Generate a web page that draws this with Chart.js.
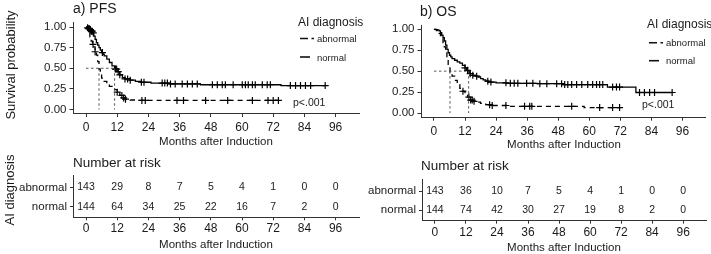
<!DOCTYPE html>
<html><head><meta charset="utf-8">
<script src="https://cdn.jsdelivr.net/npm/chart.js@4/dist/chart.umd.min.js"></script>
<style>
html,body{margin:0;padding:0;background:#fff;}
#wrap{position:relative;width:711px;height:254px;overflow:hidden;background:#fff;}
canvas{position:absolute;}
</style></head><body>
<div id="wrap">
<canvas id="c1" width="370" height="150" style="left:0;top:0"></canvas>
<canvas id="c2" width="351" height="150" style="left:360px;top:0"></canvas>
<canvas id="c3" width="360" height="104" style="left:0;top:150px"></canvas>
<canvas id="c4" width="351" height="104" style="left:360px;top:150px"></canvas>
</div>
<script>
// ---------- data ----------
const monthTicks = [0, 12, 24, 36, 48, 60, 72, 84, 96];
const survTicks = [0, 0.25, 0.5, 0.75, 1];
const groups = ['abnormal', 'normal'];

// a) PFS
const pfsNormalT = [0,0.5,1,1.5,2,2.5,3,3.5,4,4.5,5,5.5,6,6.5,7,8,9,10,11,12,13,14,15,17,19,21,25,32,44,75,92];
const pfsNormalS = [1,0.99,0.98,0.97,0.95,0.93,0.89,0.85,0.81,0.78,0.75,0.72,0.69,0.67,0.65,0.61,0.57,0.53,0.49,0.46,0.42,0.385,0.37,0.355,0.34,0.33,0.32,0.31,0.30,0.29,0.29];
const pfsAbnT = [0,0.5,1,1.5,2,2.5,3,3.5,4,4.5,5,5.5,6,7,8,9,10,11,12,13,14,15,17,20,74];
const pfsAbnS = [1,0.97,0.93,0.88,0.83,0.79,0.76,0.70,0.66,0.58,0.49,0.43,0.38,0.34,0.31,0.28,0.26,0.24,0.21,0.17,0.14,0.125,0.115,0.11,0.11];
const pfsNormalCens = [0.6,1.0,1.3,1.7,2.1,2.4,2.8,6.3,11.3,11.8,12.4,13.0,15,16,17,21.3,22.3,29.3,30.3,31.3,32.5,34.3,37,39,40.9,42.8,48.6,50.5,52.4,53.6,56.6,60.1,61.3,62.4,64,65.1,67.8,69.7,70.9,78.6,80.6,82.5,84.4,86.4,92];
const pfsAbnCens = [2.7,3.5,12,13.8,14.5,15.2,21.5,22.8,35,37.5,46,54.5,64,70,72,74];
const pfsMedians = [5, 11];
const pfsRiskAbn = [143, 29, 8, 7, 5, 4, 1, 0, 0];
const pfsRiskNormal = [144, 64, 34, 25, 22, 16, 7, 2, 0];

// b) OS
const osNormalT = [0,1,1.5,2,2.5,3,3.5,4,4.5,5,5.5,6,6.5,7,8,9,10,11,12,12.5,13.4,14,15,16,17,18,19,20,21,24,28,40,50,67,78,92];
const osNormalS = [1,0.995,0.99,0.98,0.96,0.93,0.90,0.86,0.81,0.76,0.72,0.69,0.67,0.65,0.63,0.61,0.595,0.57,0.54,0.51,0.49,0.47,0.45,0.44,0.43,0.41,0.395,0.38,0.37,0.36,0.355,0.35,0.34,0.31,0.245,0.245];
const osAbnT = [0,0.5,1,1.5,2,2.5,3,3.5,4,4.5,5,5.5,6.2,6.5,7,8,9,10,11,12,13,14,15,16,18,20,22,28,58,72];
const osAbnS = [1,0.995,0.985,0.97,0.95,0.925,0.89,0.84,0.79,0.74,0.66,0.58,0.49,0.47,0.44,0.39,0.34,0.295,0.26,0.23,0.19,0.155,0.14,0.13,0.115,0.10,0.09,0.08,0.065,0.065];
const osNormalCens = [12,13,14,15,16.5,20.8,22,27.8,29.5,31,32.4,35.8,38.2,40.9,43.6,47.4,49.3,50.5,51.7,53.2,55.1,57.1,59.4,61.3,62.8,64,65.2,69,70.5,71.7,79.4,81.3,83.3,85.2,92];
const osAbnCens = [11.2,13.5,14.2,14.8,15.5,21.5,22.5,27.8,35,37,37.8,53.2,64,69,71.7];
const osMedians = [6.2, 13.4];
const osRiskAbn = [143, 36, 10, 7, 5, 4, 1, 0, 0];
const osRiskNormal = [144, 74, 42, 30, 27, 19, 8, 2, 0];

// ---------- helpers ----------
const FF = "'Liberation Sans', Arial, sans-serif";
const INK = '#1a1a1a';
const AX = '#333';

function pts(T, S) { return T.map((t, i) => ({x: t, y: S[i]})); }
function valueAt(T, S, t) { let v = S[0]; for (let i = 0; i < T.length; i++) if (T[i] <= t) v = S[i]; return v; }
function censPts(T, S, C) { return C.map(t => ({x: t, y: valueAt(T, S, t)})); }

function deco(spec) {
  return {
    id: 'deco',
    afterDraw(chart) {
      const ctx = chart.ctx;
      ctx.save();
      (spec.lines || []).forEach(l => {
        ctx.beginPath();
        ctx.setLineDash(l.dash || []);
        ctx.lineWidth = l.w || 1.6;
        ctx.strokeStyle = '#111';
        ctx.moveTo(l.x1, l.y); ctx.lineTo(l.x2, l.y); ctx.stroke();
      });
      ctx.setLineDash([]);
      (spec.texts || []).forEach(t => {
        ctx.save();
        ctx.font = `${t.size}px ${FF}`;
        ctx.fillStyle = t.color || INK;
        ctx.textAlign = t.align || 'left';
        ctx.textBaseline = 'middle';
        ctx.translate(t.x, t.y);
        if (t.rot) ctx.rotate(t.rot);
        ctx.fillText(t.text, 0, 0);
        ctx.restore();
      });
      if (spec.risk) {
        const xs = chart.scales.x, ys = chart.scales.y;
        ctx.font = `10.5px ${FF}`;
        ctx.fillStyle = INK;
        ctx.textAlign = 'center';
        ctx.textBaseline = 'middle';
        spec.risk.forEach((row, ri) => row.forEach((n, i) => {
          ctx.fillText(String(n), xs.getPixelForValue(monthTicks[i]), ys.getPixelForValue(ri + 1));
        }));
      }
      ctx.restore();
    }
  };
}

function axisCommon(extra) {
  return Object.assign({
    grid: {drawOnChartArea: false, tickLength: 3.5, color: AX, tickColor: AX, lineWidth: 1},
    border: {display: true, color: AX, width: 1},
  }, extra);
}

function kmChart(id, d) {
  const medLine = (a) => ({data: a, borderColor: '#444', borderWidth: 0.9, borderDash: [2.5, 2.5], pointRadius: 0, fill: false});
  new Chart(document.getElementById(id), {
    type: 'line',
    data: {
      datasets: [
        medLine([{x: 0, y: 0.5}, {x: d.med[1], y: 0.5}]),
        medLine([{x: d.med[0], y: 0.5}, {x: d.med[0], y: 0}]),
        medLine([{x: d.med[1], y: 0.5}, {x: d.med[1], y: 0}]),
        {data: pts(d.nT, d.nS), stepped: true, borderColor: '#000', borderWidth: 1.3, pointRadius: 0, fill: false},
        {data: pts(d.aT, d.aS), stepped: true, borderColor: '#000', borderWidth: 1.3, borderDash: [5, 4], pointRadius: 0, fill: false},
        {data: censPts(d.nT, d.nS, d.nC), showLine: false, pointStyle: 'cross', pointRadius: 3.5, pointBorderWidth: 1.2, pointBorderColor: '#000'},
        {data: censPts(d.aT, d.aS, d.aC), showLine: false, pointStyle: 'cross', pointRadius: 3.5, pointBorderWidth: 1.2, pointBorderColor: '#000'}
      ]
    },
    options: {
      responsive: false, animation: false, devicePixelRatio: 1,
      layout: {padding: {top: d.top, right: d.right, left: 0, bottom: 0}},
      plugins: {legend: {display: false}, tooltip: {enabled: false}},
      scales: {
        x: axisCommon({
          type: 'linear', min: -5, max: 105,
          afterFit: s => { s.height = d.xh; },
          afterBuildTicks: s => { s.ticks = monthTicks.map(v => ({value: v})); },
          ticks: {font: {family: FF, size: 12}, color: INK, padding: 3.5, maxRotation: 0, autoSkip: false, callback: v => String(v)}
        }),
        y: axisCommon({
          type: 'linear', min: -0.05, max: 1.05,
          afterFit: s => { s.width = d.yw; },
          afterBuildTicks: s => { s.ticks = survTicks.map(v => ({value: v})); },
          ticks: {font: {family: FF, size: 11.5}, color: INK, padding: 3, callback: v => Number(v).toFixed(2)}
        })
      }
    },
    plugins: [deco(d.deco)]
  });
}

function riskChart(id, d) {
  new Chart(document.getElementById(id), {
    type: 'line',
    data: {datasets: []},
    options: {
      responsive: false, animation: false, devicePixelRatio: 1,
      layout: {padding: {top: d.top, right: d.right, left: 0, bottom: 0}},
      plugins: {legend: {display: false}, tooltip: {enabled: false}},
      scales: {
        x: axisCommon({
          type: 'linear', min: -5, max: 105,
          afterFit: s => { s.height = d.xh; },
          afterBuildTicks: s => { s.ticks = monthTicks.map(v => ({value: v})); },
          grid: {drawOnChartArea: false, tickLength: 3, color: AX, tickColor: AX},
          ticks: {font: {family: FF, size: 12}, color: INK, padding: 1.5, maxRotation: 0, autoSkip: false, callback: v => String(v)}
        }),
        y: axisCommon({
          type: 'linear', min: 0.35, max: 2.55, reverse: true,
          afterFit: s => { s.width = d.yw; },
          afterBuildTicks: s => { s.ticks = [1, 2].map(v => ({value: v})); },
          grid: {drawOnChartArea: false, tickLength: 3, color: AX, tickColor: AX},
          ticks: {font: {family: FF, size: 11.5}, color: INK, padding: 3, callback: v => groups[v - 1]}
        })
      }
    },
    plugins: [deco(d.deco)]
  });
}

const legendFor = (x0, yT, yA, yN) => ({
  lines: [
    {x1: x0 + 2, x2: x0 + 16, y: yA, dash: [8, 3.5], w: 1.6},
    {x1: x0 + 2, x2: x0 + 12, y: yN, w: 1.6}
  ],
  texts: [
    {text: 'AI diagnosis', x: x0, y: yT, size: 12},
    {text: 'abnormal', x: x0 + 19, y: yA + 1, size: 9.5},
    {text: 'normal', x: x0 + 19, y: yN + 1, size: 9.5}
  ]
});

// a) PFS
const legA = legendFor(298, 22.5, 38.5, 57);
kmChart('c1', {
  nT: pfsNormalT, nS: pfsNormalS, aT: pfsAbnT, aS: pfsAbnS, nC: pfsNormalCens, aC: pfsAbnCens, med: pfsMedians,
  top: 22.9, right: 11, xh: 36.4, yw: 73,
  deco: {
    lines: legA.lines,
    texts: legA.texts.concat([
      {text: 'a) PFS', x: 73, y: 9, size: 14},
      {text: 'Survival probability', x: 11, y: 65, size: 13, align: 'center', rot: -Math.PI / 2},
      {text: 'Months after Induction', x: 216, y: 142, size: 11.5, align: 'center'},
      {text: 'p<.001', x: 293, y: 102.7, size: 10.5}
    ])
  }
});

// b) OS
const legB = legendFor(287, 25, 42.7, 60.7);
kmChart('c2', {
  nT: osNormalT, nS: osNormalS, aT: osAbnT, aS: osAbnS, nC: osNormalCens, aC: osAbnCens, med: osMedians,
  top: 25.1, right: 4.6, xh: 32.8, yw: 61,
  deco: {
    lines: legB.lines,
    texts: legB.texts.concat([
      {text: 'b) OS', x: 60, y: 11.7, size: 14},
      {text: 'Months after Induction', x: 204, y: 145, size: 11.5, align: 'center'},
      {text: 'p<.001', x: 282, y: 105, size: 10.5}
    ])
  }
});

// risk tables
riskChart('c3', {
  top: 25, right: 1, xh: 36.7, yw: 73,
  deco: {
    risk: [pfsRiskAbn, pfsRiskNormal],
    texts: [
      {text: 'Number at risk', x: 73, y: 13.5, size: 13.5},
      {text: 'AI diagnosis', x: 10, y: 40, size: 13, align: 'center', rot: -Math.PI / 2},
      {text: 'Months after Induction', x: 216, y: 95, size: 11.5, align: 'center'}
    ]
  }
});
riskChart('c4', {
  top: 29, right: 4.6, xh: 33.3, yw: 62,
  deco: {
    risk: [osRiskAbn, osRiskNormal],
    texts: [
      {text: 'Number at risk', x: 61, y: 16.7, size: 13.5},
      {text: 'Months after Induction', x: 204, y: 98, size: 11.5, align: 'center'}
    ]
  }
});
</script>
</body></html>
